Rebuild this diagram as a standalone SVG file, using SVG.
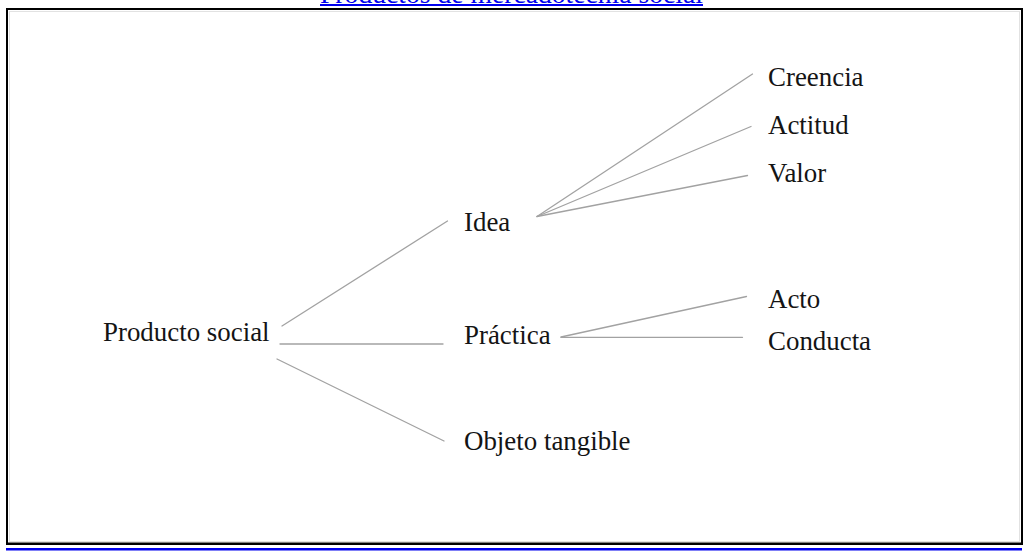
<svg xmlns="http://www.w3.org/2000/svg" width="1025" height="552" viewBox="0 0 1025 552">
  <style>
    .lbl { font-family: "Liberation Serif", "Times New Roman", serif; font-size: 26.9px; fill: #141414; }
    .link { stroke: #a2a2a2; stroke-width: 1.3; fill: none; stroke-linecap: round; }
    .title { font-family: "Liberation Serif", "Times New Roman", serif; font-size: 27px; fill: #0000ee; }
  </style>
  <rect x="0" y="0" width="1025" height="552" fill="#ffffff"/>

  <!-- page heading link, mostly above the visible area -->
  <g id="heading">
    <text class="title" x="511.5" y="2.5" text-anchor="middle" textLength="383" lengthAdjust="spacingAndGlyphs">Productos de mercadotecnia social</text>
    <rect x="320" y="4" width="383" height="2" fill="#0000ee"/>
  </g>

  <!-- frame -->
  <g id="frame">
    <rect x="7" y="9" width="1015" height="534.5" fill="none" stroke="#000" stroke-width="2"/>
    <line x1="6" y1="544" x2="1023" y2="544" stroke="#000" stroke-width="2"/>
    <rect x="9.5" y="11.5" width="1010" height="530" fill="none" stroke="#e2e2e2" stroke-width="1"/>
    <rect x="6" y="548" width="1016" height="2.5" fill="#0000ee"/>
  </g>

  <!-- connectors -->
  <g id="connectors">
    <line class="link" x1="282" y1="326" x2="447.5" y2="221"/>
    <line class="link" x1="280" y1="344" x2="443" y2="344"/>
    <line class="link" x1="277" y1="359" x2="444" y2="441"/>
    <line class="link" x1="537" y1="216.5" x2="752.5" y2="74"/>
    <line class="link" x1="537" y1="216.5" x2="751" y2="126.5"/>
    <line class="link" x1="537" y1="216.5" x2="747.5" y2="175.5"/>
    <line class="link" x1="561" y1="337" x2="746.5" y2="296.5"/>
    <line class="link" x1="561" y1="337.3" x2="742.5" y2="337.3"/>
  </g>

  <!-- nodes -->
  <g id="producto-social"><text class="lbl" x="103" y="341">Producto social</text></g>
  <g id="idea"><text class="lbl" x="464" y="231">Idea</text></g>
  <g id="practica"><text class="lbl" x="464" y="344">Práctica</text></g>
  <g id="objeto-tangible"><text class="lbl" x="464" y="450">Objeto tangible</text></g>
  <g id="creencia"><text class="lbl" x="768" y="86">Creencia</text></g>
  <g id="actitud"><text class="lbl" x="768" y="134">Actitud</text></g>
  <g id="valor"><text class="lbl" x="768" y="181.5">Valor</text></g>
  <g id="acto"><text class="lbl" x="768" y="307.5">Acto</text></g>
  <g id="conducta"><text class="lbl" x="768" y="350">Conducta</text></g>
</svg>
